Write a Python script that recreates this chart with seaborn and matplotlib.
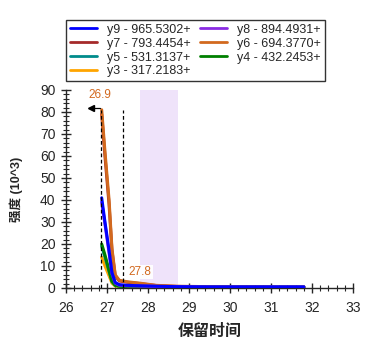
import numpy as np
import pandas as pd
import matplotlib
matplotlib.use("Agg")
import matplotlib.pyplot as plt
from matplotlib.ticker import MultipleLocator
import seaborn as sns

# retention time (min) and intensity (10^3) per trace
rt = [26.87, 26.95, 27.05, 27.12, 27.20, 27.30, 27.50, 27.80, 28.20, 28.70, 29.50, 30.50, 31.20, 31.80]
y7 = [79.0, 60.0, 38.0, 17.0, 5.5, 3.2, 2.6, 2.0, 1.1, 0.7, 0.5, 0.5, 0.4, 0.4]
y6 = [81.0, 62.0, 40.0, 18.0, 6.0, 3.5, 2.8, 2.2, 1.2, 0.8, 0.6, 0.5, 0.4, 0.4]
y8 = [39.0, 29.0, 16.0, 6.5, 2.2, 1.3, 1.0, 0.9, 0.7, 0.5, 0.4, 0.4, 0.4, 0.4]
y9 = [41.0, 30.0, 17.0, 7.0, 2.5, 1.5, 1.2, 1.0, 0.8, 0.6, 0.5, 0.5, 0.5, 0.5]
y3 = [14.0, 10.0, 5.5, 2.2, 0.9, 0.6, 0.5, 0.4, 0.3, 0.3, 0.2, 0.2, 0.2, 0.2]
y5 = [19.0, 14.0, 7.5, 3.0, 1.2, 0.8, 0.6, 0.5, 0.4, 0.3, 0.3, 0.3, 0.3, 0.3]
y4 = [20.0, 15.0, 8.0, 3.0, 1.2, 0.8, 0.6, 0.5, 0.4, 0.3, 0.3, 0.3, 0.3, 0.3]

labels = {
    "y9": "y9 - 965.5302+", "y8": "y8 - 894.4931+", "y7": "y7 - 793.4454+",
    "y6": "y6 - 694.3770+", "y5": "y5 - 531.3137+", "y4": "y4 - 432.2453+",
    "y3": "y3 - 317.2183+",
}
colors = {"y9": "#0000FF", "y8": "#8A2BE2", "y7": "#A52A2A", "y6": "#D2691E",
          "y5": "#008B8B", "y4": "#008000", "y3": "#FFA500"}
series = {"y7": y7, "y6": y6, "y3": y3, "y5": y5, "y4": y4, "y8": y8, "y9": y9}

peak_rt = 26.9
mark_rt = 27.8
band = (27.8, 28.73)

rows = []
for name, vals in series.items():
    for t, v in zip(rt, vals):
        rows.append({"rt": t, "intensity": v, "trace": labels[name]})
df = pd.DataFrame(rows)

sns.set_style("ticks")
plt.rcParams["font.family"] = ["Liberation Sans", "Noto Sans CJK SC"]

fig = plt.figure(figsize=(3.74, 3.51), dpi=100)
ax = fig.add_axes([0.1765, 0.1795, 0.7675, 0.5641])

ax.axvspan(band[0], band[1], color="#EFE3FA", zorder=0, lw=0)

palette = {labels[k]: colors[k] for k in colors}
sns.lineplot(data=df, x="rt", y="intensity", hue="trace", hue_order=[labels[k] for k in series],
             palette=palette, lw=2.2, ax=ax, legend=False, zorder=3)

ax.plot([26.86, 26.86], [0, 81], ls=(0, (3, 2)), color="black", lw=0.9, zorder=4)
ax.plot([27.39, 27.39], [0, 81], ls=(0, (3, 2)), color="black", lw=0.9, zorder=4)
ax.plot([26.55, 26.82], [82, 82], color="black", lw=0.9, zorder=4)
ax.plot([26.62], [82], marker="<", color="black", ms=5, zorder=5)

ax.text(26.82, 87.5, "26.9", color="#D2691E", fontsize=8.5, ha="center", va="center")
ax.text(mark_rt, 7.3, "27.8", color="#D2691E", fontsize=8.5, ha="center", va="center",
        bbox=dict(facecolor="white", edgecolor="none", pad=1.0, alpha=0.9), zorder=6)

ax.set_xlim(26, 33)
ax.set_ylim(0, 90)
ax.xaxis.set_major_locator(MultipleLocator(1))
ax.xaxis.set_minor_locator(MultipleLocator(0.2))
ax.yaxis.set_major_locator(MultipleLocator(10))
ax.yaxis.set_minor_locator(MultipleLocator(2))
ax.tick_params(which="major", direction="inout", length=7, width=1, labelsize=10, pad=4)
ax.tick_params(axis="x", which="major", pad=6)
ax.tick_params(which="minor", direction="inout", length=4, width=0.8)
sns.despine(ax=ax)
for s in ["left", "bottom"]:
    ax.spines[s].set_linewidth(1)

ax.set_xlabel("保留时间", fontsize=11.5, fontweight="bold", labelpad=6)
ax.set_ylabel("强度 (10^3)", fontsize=9, fontweight="bold", labelpad=12)

order = ["y9", "y7", "y5", "y3", "y8", "y6", "y4"]
handles = [plt.Line2D([], [], color=colors[k], lw=2) for k in order]
fig.legend(handles, [labels[k] for k in order], ncol=2, loc="upper left",
           bbox_to_anchor=(0.176, 0.943), fontsize=9.0, frameon=True, fancybox=False,
           edgecolor="black", handlelength=2.2, handletextpad=0.8, columnspacing=0.7,
           labelspacing=0.15, borderpad=0.3, borderaxespad=0)

fig.savefig("out.png", dpi=100)
